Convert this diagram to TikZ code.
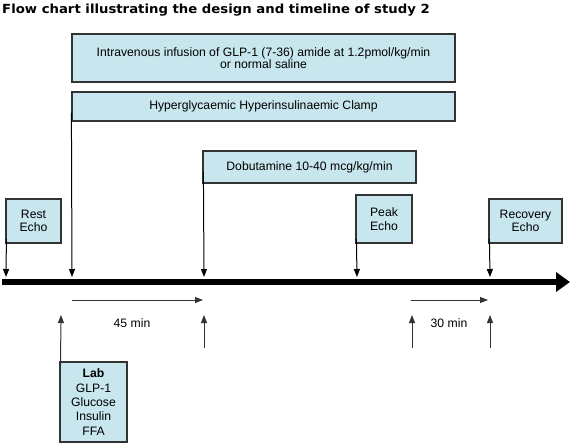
\documentclass[tikz,border=0pt]{standalone}
\usepackage{fontspec}
\setmainfont{Liberation Sans}
\newfontfamily\titlefont[FakeStretch=1.06]{DejaVu Sans}
\usetikzlibrary{arrows.meta}
\definecolor{boxblue}{RGB}{200,230,238}
\tikzset{
	box/.style={draw=black!80, line width=1.2pt, fill=boxblue, align=center, inner sep=0pt, font=\fontsize{12.2}{13.5}\selectfont},
	tick/.style={line width=1pt, -{Triangle[length=8pt,width=6pt]}},
	span/.style={line width=1pt, draw=black!80, -{Triangle[length=8pt,width=6pt]}},
	lbl/.style={font=\fontsize{12.2}{14}\selectfont}
}

\begin{document}
\begin{tikzpicture}[x=1pt, y=-1pt]
			%%%%% START %%%%%
			\useasboundingbox (0, 0) rectangle (572, 445);
			
			\node[anchor=base west, inner sep=0pt, font=\titlefont\bfseries\fontsize{12.5}{15}\selectfont] (title) at (2, 13) {Flow chart illustrating the design and timeline of study 2};
			
			% infusion and clamp
			\node[box, minimum width=383pt, minimum height=48pt] (infusion) at (263.5, 58) {Intravenous infusion of GLP-1 (7-36) amide at 1.2pmol/kg/min\\[-1pt] or normal saline};
			\node[box, minimum width=383pt, minimum height=29pt] (clamp) at (263.5, 106.5) {Hyperglycaemic Hyperinsulinaemic Clamp};
			\node[box, minimum width=213pt, minimum height=32pt] (dobutamine) at (309.5, 167) {Dobutamine 10-40 mcg/kg/min};
			
			% echo boxes
			\node[box, minimum width=55pt, minimum height=44pt] (rest) at (33.5, 221) {Rest\\Echo};
			\node[box, minimum width=56pt, minimum height=48pt] (peak) at (384, 219) {Peak\\Echo};
			\node[box, minimum width=73pt, minimum height=44pt] (recovery) at (525.5, 221) {Recovery\\Echo};
			
			% time axis
			\coordinate (axisstart) at (2, 282);
			\coordinate (axisend) at (570, 282);
			\draw[line width=5.5pt, -{Triangle[length=14pt,width=19pt]}] (axisstart) -- (axisend);
			
			\coordinate (t0) at (6, 277);
			\coordinate (t1) at (72, 277);
			\coordinate (t2) at (204, 277);
			\coordinate (t3) at (357, 277);
			\coordinate (t4) at (490, 277);
			
			\draw[tick] ([shift={(1pt,5pt)}]rest.south west) -- (t0);
			\draw[tick] ([shift={(0pt,9pt)}]clamp.south west) -- (t1);
			\draw[tick] ([shift={(1pt,12pt)}]dobutamine.south west) -- (t2);
			\draw[tick] ([shift={(1pt,5pt)}]peak.south west) -- (t3);
			\draw[tick] ([shift={(1pt,5pt)}]recovery.south west) -- (t4);
			
			% durations
			\coordinate (a1) at (72, 300);
			\coordinate (b1) at (203, 300);
			\coordinate (a2) at (411, 300);
			\coordinate (b2) at (488, 300);
			\draw[span] (a1) -- (b1);
			\draw[span] (a2) -- (b2);
			\node[lbl] (min45) at (132, 323) {45 min};
			\node[lbl] (min30) at (449, 323) {30 min};
			
			% lab samples
			\node[box, minimum width=67pt, minimum height=80pt, font=\fontsize{12.2}{14.3}\selectfont] (lab) at (93.5, 402) {\textbf{Lab}\\GLP-1\\Glucose\\Insulin\\FFA};
			
			\coordinate (s1) at (61, 315);
			\coordinate (s2) at (204, 315);
			\coordinate (s3) at (412, 315);
			\coordinate (s4) at (490, 315);
			\draw[span] ([shift={(1pt,-14pt)}]lab.north west) -- (s1);
			\draw[span] (204, 348) -- (s2);
			\draw[span] (412, 348) -- (s3);
			\draw[span] (490, 348) -- (s4);
			
			%%%%% END %%%%%
\end{tikzpicture}
\end{document}
